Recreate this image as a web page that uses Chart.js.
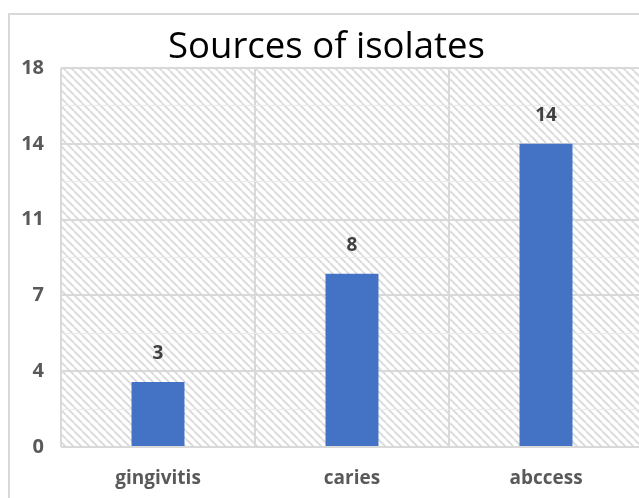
<!DOCTYPE html>
<html>
<head>
<meta charset="utf-8">
<script src="https://cdn.jsdelivr.net/npm/chart.js@4.4.1/dist/chart.umd.min.js"></script>
<style>
  html, body { margin: 0; padding: 0; background: #fff; overflow: hidden; }
  #box { position: absolute; left: 8px; top: 13px; width: 655px; height: 500px; border: 2px solid #d9d9d9; }
  canvas { display: block; }
</style>
</head>
<body>
<div id="box"><canvas id="bar-graph" width="645" height="490"></canvas></div>
<script>
// values
let categories = ["gingivitis", "caries", "abccess"]
let isolates = [3, 8, 14]
let yMax = 17.5
let yStep = 1.75   // every second one is a labelled (major) line

document.addEventListener("DOMContentLoaded", function(e){

    // diagonal hatch like the excel plot area
    function makeHatch() {
        let s = 8
        let tile = document.createElement("canvas")
        tile.width = s
        tile.height = s
        let t = tile.getContext("2d")
        t.strokeStyle = "#dcdcdc"
        t.lineWidth = 2
        t.beginPath()
        for (let off = -s; off <= s; off += s) {
            t.moveTo(off, 0)
            t.lineTo(off + s, s)
        }
        t.stroke()
        return t.createPattern(tile, "repeat")
    }

    let hatchPlugin = {
        id: "hatch",
        beforeDraw(chart) {
            let a = chart.chartArea
            let ctx = chart.ctx
            ctx.save()
            ctx.fillStyle = makeHatch()
            ctx.fillRect(a.left, a.top, a.right - a.left, a.bottom - a.top)
            ctx.restore()
        }
    }

    let valuePlugin = {
        id: "values",
        afterDatasetsDraw(chart) {
            let ctx = chart.ctx
            let meta = chart.getDatasetMeta(0)
            ctx.save()
            ctx.font = "bold 19px 'Open Sans'"
            ctx.fillStyle = "#404040"
            ctx.textAlign = "center"
            ctx.textBaseline = "middle"
            meta.data.forEach((bar, i) => {
                ctx.fillText(chart.data.datasets[0].data[i], bar.x, bar.y - 28)
            })
            ctx.restore()
        }
    }

    let barData = {
        labels: categories,
        datasets: [{
            label: "Sources of isolates",
            data: isolates,
            backgroundColor: "#4472C4",
            barPercentage: 1,
            categoryPercentage: 0.273
        }]
    }

    let barOptions = {
        responsive: false,
        animation: false,
        devicePixelRatio: 1,
        layout: { padding: { left: 0, right: 12, top: 0, bottom: 0 } },
        plugins: {
            legend: { display: false },
            tooltip: { enabled: false },
            title: {
                display: true,
                text: "Sources of isolates",
                color: "#000",
                font: { family: "'Open Sans'", size: 36.5, weight: "normal", lineHeight: 1.1 },
                padding: { top: 12.85, bottom: 0 }
            }
        },
        scales: {
            x: {
                grid: { color: "#d9d9d9", lineWidth: 2, drawTicks: false, offset: true },
                border: { display: false },
                ticks: {
                    color: "#595959",
                    padding: 20,
                    font: { family: "'Open Sans'", size: 19, weight: "bold" }
                },
                afterFit(scale) { scale.height = 58 }
            },
            y: {
                min: 0,
                max: yMax,
                grid: {
                    drawTicks: false,
                    color: ctx => ctx.index % 2 ? "#ebebeb" : "#d9d9d9",
                    lineWidth: ctx => ctx.index % 2 ? 1 : 2
                },
                border: { display: false },
                ticks: {
                    stepSize: yStep,
                    autoSkip: false,
                    color: "#595959",
                    padding: 17,
                    font: { family: "'Open Sans'", size: 20, weight: "bold" },
                    callback: (v, i) => i % 2 ? "" : Math.round(v)
                },
                afterFit(scale) { scale.width = 51 }
            }
        }
    }

    let barGraph = document.getElementById("bar-graph").getContext("2d")
    const barChart = new Chart(barGraph, {
        type: "bar",
        data: barData,
        options: barOptions,
        plugins: [hatchPlugin, valuePlugin]
    })
})
</script>
</body>
</html>
